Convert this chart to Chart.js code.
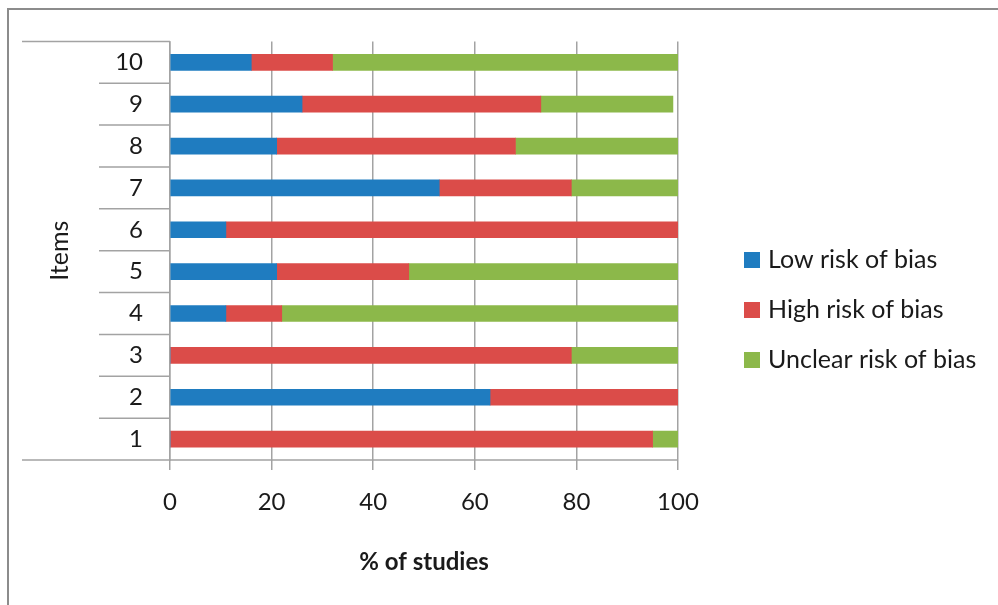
<!DOCTYPE html>
<html>
<head>
<meta charset="utf-8">
<script src="https://cdn.jsdelivr.net/npm/chart.js@4.4.1/dist/chart.umd.min.js"></script>
<style>
  html, body { margin: 0; padding: 0; background: #ffffff; }
  #wrap { width: 998px; height: 605px; position: relative; }
</style>
</head>
<body>
<div id="wrap"><canvas id="chart" width="998" height="605"></canvas></div>
<script>
// Risk-of-bias items (bottom to top)
const items = ["1", "2", "3", "4", "5", "6", "7", "8", "9", "10"];

// Percentage of studies per judgement, per item
const lowRisk     = [0, 63, 0, 11, 21, 11, 53, 21, 26, 16];
const highRisk    = [95, 37, 79, 11, 26, 89, 26, 47, 47, 16];
const unclearRisk = [5, 0, 21, 78, 53, 0, 21, 32, 26, 68];

const seriesNames = ["Low risk of bias", "High risk of bias", "Unclear risk of bias"];
const xTicks = [0, 20, 40, 60, 80, 100];

const FONT = "Lato, 'Open Sans', sans-serif";
const LINE = "#a3a3a3";

// Frame, category separators and legend drawn around the plot
const decorations = {
  id: "decorations",
  afterDraw(chart) {
    const { ctx, chartArea } = chart;
    const y = chart.scales.y;
    ctx.save();
    ctx.strokeStyle = "#8c8c8c";
    ctx.lineWidth = 2;
    ctx.beginPath();
    ctx.moveTo(8, 605);
    ctx.lineTo(8, 9);
    ctx.lineTo(998, 9);
    ctx.stroke();

    ctx.strokeStyle = LINE;
    ctx.lineWidth = 1.5;
    ctx.beginPath();
    ctx.moveTo(22, chartArea.top);
    ctx.lineTo(chartArea.left, chartArea.top);
    ctx.moveTo(22, chartArea.bottom);
    ctx.lineTo(chartArea.right, chartArea.bottom);
    for (let i = 1; i < items.length; i++) {
      const py = (y.getPixelForValue(i - 1) + y.getPixelForValue(i)) / 2;
      ctx.moveTo(99, py);
      ctx.lineTo(chartArea.left, py);
    }
    ctx.stroke();

    // legend
    const ds = chart.data.datasets;
    const gap = 50;
    const y0 = 260;
    ctx.font = "25px " + FONT;
    ctx.textBaseline = "middle";
    ctx.textAlign = "left";
    ds.forEach((d, i) => {
      const cy = y0 + i * gap;
      ctx.fillStyle = d.backgroundColor;
      ctx.fillRect(744, cy - 8, 16, 16);
      ctx.fillStyle = "#1a1a1a";
      ctx.fillText(d.label, 768, cy);
    });
    ctx.restore();
  }
};

new Chart(document.getElementById("chart"), {
  type: "bar",
  data: {
    labels: items,
    datasets: [
      { label: seriesNames[0], data: lowRisk,     backgroundColor: "#1f7cc0" },
      { label: seriesNames[1], data: highRisk,    backgroundColor: "#db4c49" },
      { label: seriesNames[2], data: unclearRisk, backgroundColor: "#8cb84a" }
    ]
  },
  options: {
    indexAxis: "y",
    responsive: false,
    animation: false,
    barThickness: 16,
    layout: { padding: { top: 40, right: 320, left: 0, bottom: 0 } },
    plugins: {
      legend: { display: false },
      tooltip: { enabled: false }
    },
    scales: {
      x: {
        stacked: true,
        min: 0,
        max: 100,
        afterBuildTicks(scale) { scale.ticks = xTicks.map(v => ({ value: v })); },
        afterFit(scale) { scale.height = 145; },
        grid: { color: LINE, lineWidth: 1.5, tickLength: 10 },
        border: { display: false },
        ticks: { color: "#1a1a1a", font: { family: FONT, size: 24 }, padding: 18, maxRotation: 0 },
        title: {
          display: true,
          text: "% of studies",
          color: "#1a1a1a",
          font: { family: FONT, size: 24, weight: "bold" },
          padding: { top: 0, bottom: 28 }
        }
      },
      y: {
        stacked: true,
        reverse: true,
        afterFit(scale) { scale.width = 170; },
        grid: { display: false, drawTicks: false },
        border: { display: true, color: LINE, width: 1.5 },
        ticks: { color: "#1a1a1a", font: { family: FONT, size: 24 }, padding: 27 },
        title: {
          display: true,
          text: "Items",
          color: "#1a1a1a",
          font: { family: FONT, size: 25 },
          padding: { top: 45, bottom: 0 }
        }
      }
    }
  },
  plugins: [decorations]
});
</script>
</body>
</html>
